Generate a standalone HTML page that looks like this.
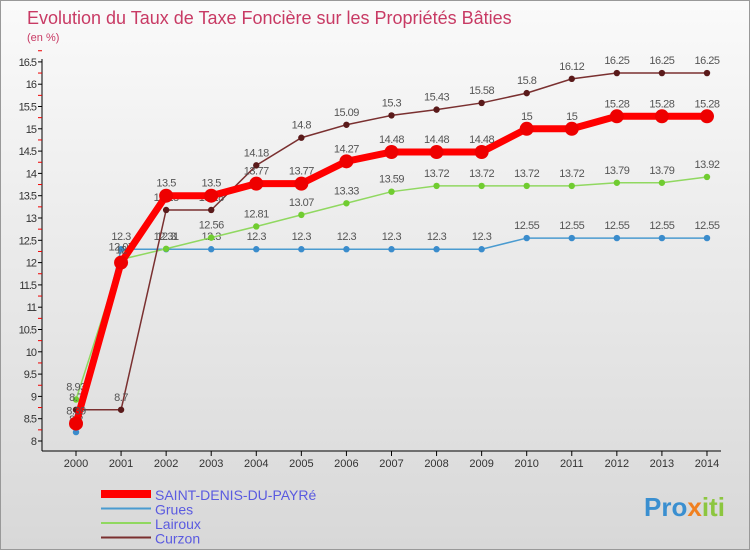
<!DOCTYPE html>
<html><head><meta charset="utf-8"><style>
body{margin:0}
#w{width:748px;height:548px;border:1px solid #999;background:linear-gradient(#fafafa,#d8d8d8);position:relative;overflow:hidden;font-family:"Liberation Sans",sans-serif}
text{font-family:"Liberation Sans",sans-serif}
</style></head><body>
<div id="w">
<svg id="s" width="750" height="550">
<text x="26" y="23" font-size="18" fill="#c83a64" font-weight="300">Evolution du Taux de Taxe Foncière sur les Propriétés Bâties</text>
<text x="26" y="40" font-size="11" fill="#c83a64">(en %)</text>
<g id="axes"></g><g id="series"></g>
<text x="643" y="515" font-size="26" font-weight="bold" fill="#3a8fd0">Pro<tspan fill="#f08020">x</tspan><tspan fill="#8cc63f">iti</tspan></text>
</svg></div>
<script>
const years=[2000,2001,2002,2003,2004,2005,2006,2007,2008,2009,2010,2011,2012,2013,2014];
const yTicks=[8,8.5,9,9.5,10,10.5,11,11.5,12,12.5,13,13.5,14,14.5,15,15.5,16,16.5];
const seriesNames=["SAINT-DENIS-DU-PAYRé","Grues","Lairoux","Curzon"];
const saint=[8.39,12,13.5,13.5,13.77,13.77,14.27,14.48,14.48,14.48,15,15,15.28,15.28,15.28];
const grues=[8.2,12.3,12.3,12.3,12.3,12.3,12.3,12.3,12.3,12.3,12.55,12.55,12.55,12.55,12.55];
const lairoux=[8.93,12.07,12.31,12.56,12.81,13.07,13.33,13.59,13.72,13.72,13.72,13.72,13.79,13.79,13.92];
const curzon=[8.7,8.7,13.18,13.18,14.18,14.8,15.09,15.3,15.43,15.58,15.8,16.12,16.25,16.25,16.25];
const X=i=>75+i*45.07, Y=v=>440-(v-8)*44.6;
const NS="http://www.w3.org/2000/svg";
function mk(t,a,p){const e=document.createElementNS(NS,t);for(const k in a)e.setAttribute(k,a[k]);p.appendChild(e);return e;}
const ax=document.getElementById('axes'),sg=document.getElementById('series');
let l=mk('line',{x1:41,y1:58,x2:41,y2:450,stroke:'#000'},ax);

l=mk('line',{x1:41,y1:450,x2:720,y2:450,stroke:'#000'},ax);

yTicks.forEach(v=>{mk('line',{x1:37,x2:41,y1:Y(v),y2:Y(v),stroke:'#000'},ax);
 mk('line',{x1:37,x2:41,y1:Y(v+0.25),y2:Y(v+0.25),stroke:'#e00'},ax);
 const t=mk('text',{x:35,y:Y(v)+4,'font-size':11,'text-anchor':'end',fill:'#333','letter-spacing':'-1'},ax);t.textContent=String(v);
 });
years.forEach((y,i)=>{mk('line',{x1:X(i),x2:X(i),y1:450,y2:455,stroke:'#000'},ax);
 const t=mk('text',{x:X(i),y:466,'font-size':11,'text-anchor':'middle',fill:'#333'},ax);t.textContent=y;
 });
function draw(d,col,w,r,dot,name){
 const g=mk('g',{},sg);
 const p=mk('polyline',{points:d.map((v,i)=>X(i)+','+Y(v)).join(' '),fill:'none',stroke:col,'stroke-width':w},g);
 
 d.forEach((v,i)=>{const c=mk('circle',{cx:X(i),cy:Y(v),r:r,fill:dot},g);
  
  const t=mk('text',{x:X(i),y:Y(v)-9,'font-size':11,'text-anchor':'middle',fill:'#555','letter-spacing':'-0.5'},g);t.textContent=String(v);
  });
}
draw(grues,'#4a9bd0',1.5,3.2,'#3a8ccc','grues');
draw(lairoux,'#90d860',1.5,3.2,'#70cc30','lairoux');
draw(curzon,'#7a3030',1.5,3.2,'#5a1a1a','curzon');
draw(saint,'#f00',7,7,'#e00','saint-denis');
const cols=['#f00','#4a9bd0','#90d860','#7a3030'],ws=[8,2,2,2];
seriesNames.forEach((n,i)=>{const y=493+i*14.5;
 const g=mk('g',{},sg);
 mk('line',{x1:100,x2:150,y1:y,y2:y,stroke:cols[i],'stroke-width':ws[i]},g);
 const t=mk('text',{x:154,y:y+6,'font-size':14,fill:'#5a5ae0'},g);t.textContent=n;});
</script></body></html>
